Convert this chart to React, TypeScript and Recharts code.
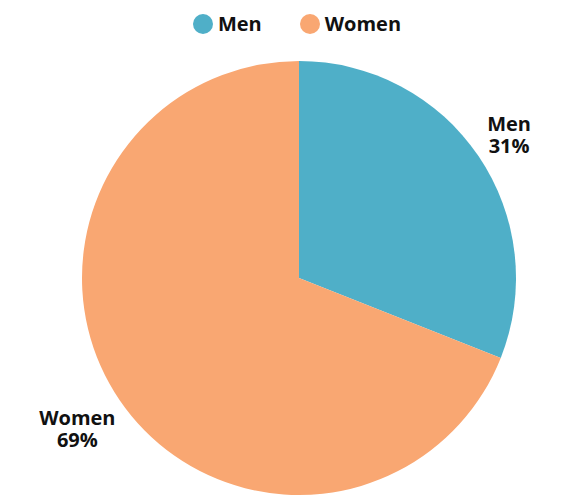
import React from 'react';
import { PieChart, Pie, Cell, Legend } from 'recharts';

const categories = ['Men', 'Women'];
const shares = [31, 69];
const colors = ['#4fafc8', '#f9a772'];

const data = categories.map((name, i) => ({ name, value: shares[i], color: colors[i] }));

const FONT = '"Open Sans", "Noto Sans", sans-serif';
const RADIAN = Math.PI / 180;

const renderLabel = (props: any) => {
    const { cx, cy, midAngle, outerRadius, name, value } = props;
    const cos = Math.cos(-midAngle * RADIAN);
    const sin = Math.sin(-midAngle * RADIAN);
    const r = outerRadius + (cos < 0 ? 51 : 37);
    const x = cx + r * cos;
    const y = cy + r * sin;
    return (
        <text
            x={x}
            y={y}
            textAnchor="middle"
            fill="#111"
            fontFamily={FONT}
            fontWeight={700}
            fontSize={20}
        >
            <tspan x={x} dy={-4}>{name}</tspan>
            <tspan x={x} dy={22}>{`${value}%`}</tspan>
        </text>
    );
};

const renderLegend = () => (
    <div
        style={{
            display: 'flex',
            justifyContent: 'center',
            alignItems: 'center',
            gap: 38,
            paddingLeft: 14,
            fontFamily: FONT,
            fontWeight: 700,
            fontSize: 20,
            color: '#111',
        }}
    >
        {data.map((d) => (
            <div key={d.name} style={{ display: 'flex', alignItems: 'center', gap: 5 }}>
                <span
                    style={{
                        width: 20,
                        height: 20,
                        borderRadius: '50%',
                        background: d.color,
                        display: 'inline-block',
                    }}
                />
                <span>{d.name}</span>
            </div>
        ))}
    </div>
);

export default function App() {
    return (
        <div style={{ position: 'absolute', left: 0, top: 0, background: '#fff' }}>
            <PieChart width={580} height={497} margin={{ top: 0, right: 0, bottom: 0, left: 0 }}>
                <Legend
                    verticalAlign="top"
                    content={renderLegend}
                    wrapperStyle={{ top: 10, left: 0, width: 580 }}
                />
                <Pie
                    data={data}
                    dataKey="value"
                    nameKey="name"
                    cx={299}
                    cy={251}
                    outerRadius={217}
                    startAngle={90}
                    endAngle={-270}
                    stroke="none"
                    labelLine={false}
                    label={renderLabel}
                    isAnimationActive={false}
                >
                    {data.map((entry, index) => (
                        <Cell key={`cell-${index}`} fill={entry.color} />
                    ))}
                </Pie>
            </PieChart>
        </div>
    );
}
